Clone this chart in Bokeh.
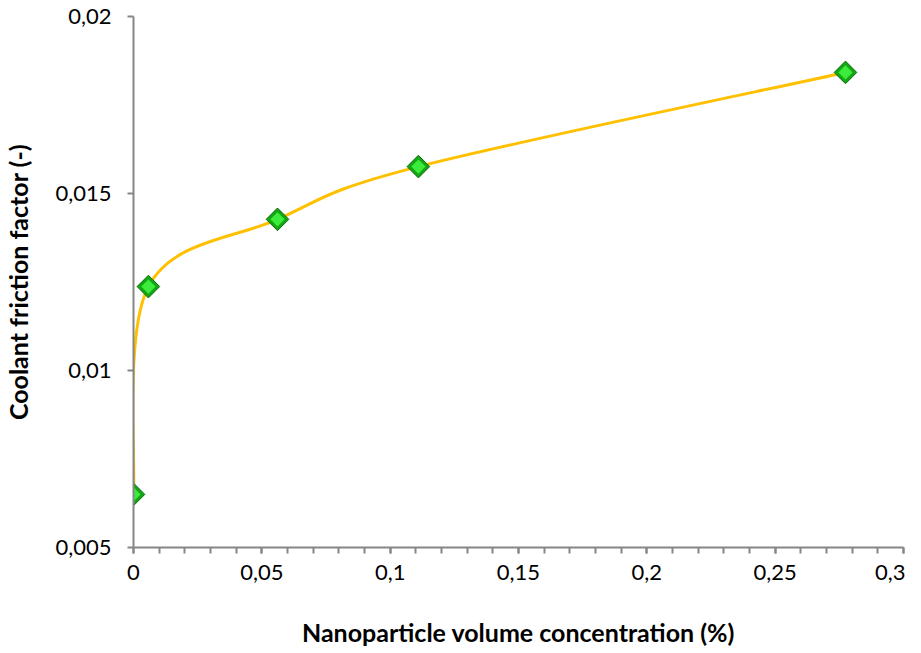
import numpy as np
from bokeh.plotting import figure
from bokeh.models import FixedTicker
from bokeh.embed import file_html
from bokeh.resources import INLINE

# Data
concentration = [0.0, 0.0058, 0.0561, 0.111, 0.2774]
friction = [0.0065, 0.01237, 0.01427, 0.01576, 0.01842]

x_ticks = [0.0, 0.05, 0.1, 0.15, 0.2, 0.25, 0.3]
x_tick_labels = ["0", "0,05", "0,1", "0,15", "0,2", "0,25", "0,3"]
y_ticks = [0.005, 0.01, 0.015, 0.02]
y_tick_labels = ["0,005", "0,01", "0,015", "0,02"]

x_title = "Nanoparticle volume concentration (%)"
y_title = "Coolant friction factor (-)"

FONT = "Lato"

p = figure(width=905, height=653, x_range=(x_ticks[0], x_ticks[-1]), y_range=(y_ticks[0], y_ticks[-1]),
           output_backend="svg", toolbar_location=None,
           min_border_left=133, min_border_right=2, min_border_top=16, min_border_bottom=106)
p.outline_line_color = None
p.grid.visible = False
p.background_fill_color = "white"
p.border_fill_color = "white"

# Smoothed line (Catmull-Rom style Bezier segments, like a spreadsheet smoothed line)
P = np.column_stack([concentration, friction])
Pm = np.vstack([P[:1], P, P[-1:]])
x0, y0 = P[:-1, 0], P[:-1, 1]
x1, y1 = P[1:, 0], P[1:, 1]
c0 = Pm[1:-2] + (Pm[2:-1] - Pm[:-3]) / 6.0
c1 = Pm[2:-1] - (Pm[3:] - Pm[1:-2]) / 6.0
p.bezier(x0=x0, y0=y0, x1=x1, y1=y1, cx0=c0[:, 0], cy0=c0[:, 1], cx1=c1[:, 0], cy1=c1[:, 1],
         line_color="#FFC000", line_width=3)

# Diamond markers with a bevelled look
p.scatter(concentration, friction, marker="square", angle=np.pi / 4, size=16,
          fill_color="#12A812", line_color="#0B6A0B", line_width=1)
p.scatter(concentration, friction, marker="square", angle=np.pi / 4, size=10,
          fill_color="#3CEB3C", line_color=None)

for ax in (p.xaxis[0], p.yaxis[0]):
    ax.axis_line_color = "#868686"
    ax.axis_line_width = 2
    ax.major_tick_line_color = "#868686"
    ax.minor_tick_line_color = "#868686"
    ax.major_tick_line_width = 2
    ax.minor_tick_line_width = 2
    ax.major_tick_in = 0
    ax.major_tick_out = 6
    ax.minor_tick_in = 0
    ax.minor_tick_out = 6
    ax.major_label_text_font = FONT
    ax.major_label_text_font_size = "22px"
    ax.major_label_text_color = "#000000"
    ax.axis_label_text_font = FONT
    ax.axis_label_text_font_size = "25px"
    ax.axis_label_text_font_style = "bold"
    ax.axis_label_text_color = "#000000"

p.xaxis.ticker = FixedTicker(ticks=x_ticks, minor_ticks=[i / 100 for i in range(31)])
p.xaxis.major_label_overrides = dict(zip(x_ticks, x_tick_labels))
p.yaxis.ticker = FixedTicker(ticks=y_ticks, minor_ticks=[])
p.yaxis.major_label_overrides = dict(zip(y_ticks, y_tick_labels))
p.yaxis.minor_tick_out = 0

p.xaxis.axis_label = x_title
p.yaxis.axis_label = y_title
p.xaxis.major_label_standoff = 11
p.xaxis.axis_label_standoff = 34
p.yaxis.major_label_standoff = 16
p.yaxis.axis_label_standoff = 19

open("out.html", "w").write(file_html(p, INLINE))
